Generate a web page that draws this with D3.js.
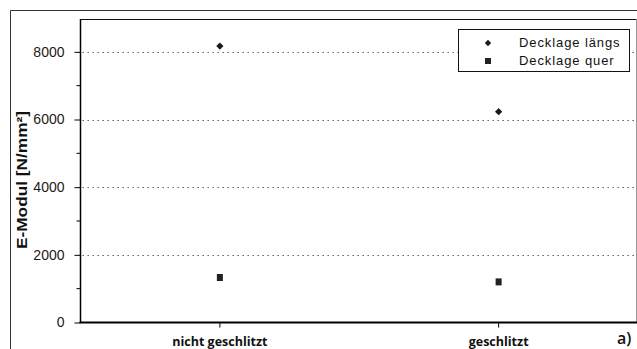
<!DOCTYPE html>
<html>
<head>
<meta charset="utf-8">
<script src="https://cdn.jsdelivr.net/npm/d3@7"></script>
<style>
  html, body { margin: 0; padding: 0; background: #fff; }
  svg { display: block; }
</style>
</head>
<body>
<svg id="chart" width="637" height="349"></svg>
<script>
// E-Modul der Decklagen, nicht geschlitzt vs. geschlitzt
const categories = ["nicht geschlitzt", "geschlitzt"];
const laengs = [8170, 6230];   // Decklage längs
const quer = [1330, 1200];     // Decklage quer
const yTicks = [0, 2000, 4000, 6000, 8000];
const yMinorTicks = [1000, 3000, 5000, 7000];
const gridValues = [2000, 4000, 6000, 8000];
const legendLabels = ["Decklage längs", "Decklage quer"];

const svg = d3.select("#chart");
const plotLeft = 80.5, plotRight = 638, plotTop = 18, plotBottom = 322.5;

const x = d3.scaleBand().domain(categories).range([plotLeft, plotRight]).paddingInner(0).paddingOuter(0);
const xc = d => x(d) + x.bandwidth() / 2;
const y = d3.scaleLinear().domain([0, 9000]).range([plotBottom, plotTop]);

// outer frame
svg.append("path")
  .attr("d", "M10.5,349 V10.5 H637")
  .attr("fill", "none").attr("stroke", "#333").attr("stroke-width", 1);

// plot frame (top and right)
svg.append("line").attr("x1", plotLeft).attr("x2", 636.5).attr("y1", 19.5).attr("y2", 19.5)
  .attr("stroke", "#111");
svg.append("line").attr("x1", 636.5).attr("x2", 636.5).attr("y1", 19.5).attr("y2", plotBottom)
  .attr("stroke", "#999");

// dotted gridlines
svg.append("g").selectAll("line").data(gridValues).join("line")
  .attr("x1", plotLeft + 2).attr("x2", 636)
  .attr("y1", d => Math.round(y(d)) + 0.5).attr("y2", d => Math.round(y(d)) + 0.5)
  .attr("stroke", "#444").attr("stroke-width", 1).attr("stroke-dasharray", "1.3,3.7");

// y axis
const yAxis = svg.append("g")
  .attr("transform", `translate(${plotLeft},0)`)
  .call(d3.axisLeft(y).tickValues(yTicks).tickSize(6).tickPadding(10).tickFormat(d3.format("d")));
yAxis.select(".domain").attr("stroke", "#000").attr("stroke-width", 1.5)
  .attr("d", `M0,${plotTop + 1}V${plotBottom}`);
yAxis.selectAll(".tick line").attr("stroke", "#000");
yAxis.selectAll(".tick text")
  .attr("font-family", "Liberation Sans, Arial, sans-serif")
  .attr("font-size", "14px").attr("fill", "#1a1a1a");
svg.append("g").selectAll("line").data(yMinorTicks).join("line")
  .attr("x1", plotLeft - 4).attr("x2", plotLeft)
  .attr("y1", d => y(d)).attr("y2", d => y(d))
  .attr("stroke", "#000");

// x axis
const xAxis = svg.append("g")
  .attr("transform", `translate(0,${plotBottom})`)
  .call(d3.axisBottom(x).tickSize(5).tickPadding(9));
xAxis.select(".domain").attr("stroke", "#000").attr("stroke-width", 2)
  .attr("d", `M${plotLeft - 1},0H637`);
xAxis.selectAll(".tick line").attr("stroke", "#000");
xAxis.selectAll(".tick text")
  .attr("font-family", "Open Sans, sans-serif").attr("font-weight", 700)
  .attr("font-size", "12.5px").attr("fill", "#111")
  .attr("dy", null).attr("y", 23.5);

// y axis title
svg.append("text")
  .attr("transform", "translate(26.5,180) rotate(-90)")
  .attr("text-anchor", "middle")
  .attr("font-family", "Liberation Sans, Arial, sans-serif")
  .attr("font-weight", 700).attr("font-size", "15px").attr("fill", "#111")
  .attr("textLength", 138).attr("lengthAdjust", "spacingAndGlyphs")
  .text("E-Modul [N/mm²]");

// panel label
svg.append("text")
  .attr("x", 617).attr("y", 344)
  .attr("font-family", "Open Sans, sans-serif").attr("font-weight", 600)
  .attr("font-size", "16px").attr("fill", "#111")
  .text("a)");

// data markers
const diamond = d3.symbol().type(d3.symbolSquare).size(26);
svg.append("g").selectAll("path").data(laengs).join("path")
  .attr("d", diamond)
  .attr("transform", (d, i) => `translate(${xc(categories[i])},${y(d)}) rotate(45)`)
  .attr("fill", "#1a1a1a");

svg.append("g").selectAll("rect").data(quer).join("rect")
  .attr("x", (d, i) => xc(categories[i]) - 3)
  .attr("y", d => y(d) - 3.5)
  .attr("width", 6).attr("height", 7)
  .attr("fill", "#222");

// legend
const lg = svg.append("g");
lg.append("rect").attr("x", 458.5).attr("y", 29.5).attr("width", 171).attr("height", 42)
  .attr("fill", "#fff").attr("stroke", "#111");
lg.append("path").attr("d", d3.symbol().type(d3.symbolSquare).size(20))
  .attr("transform", "translate(488,43) rotate(45)").attr("fill", "#1a1a1a");
lg.append("rect").attr("x", 485).attr("y", 58).attr("width", 6).attr("height", 6).attr("fill", "#222");
lg.selectAll("text").data(legendLabels).join("text")
  .attr("x", 519).attr("y", (d, i) => 47 + i * 17.5)
  .attr("font-family", "Liberation Sans, Arial, sans-serif")
  .attr("font-size", "13px").attr("letter-spacing", "0.9px").attr("fill", "#111")
  .text(d => d);
</script>
</body>
</html>
